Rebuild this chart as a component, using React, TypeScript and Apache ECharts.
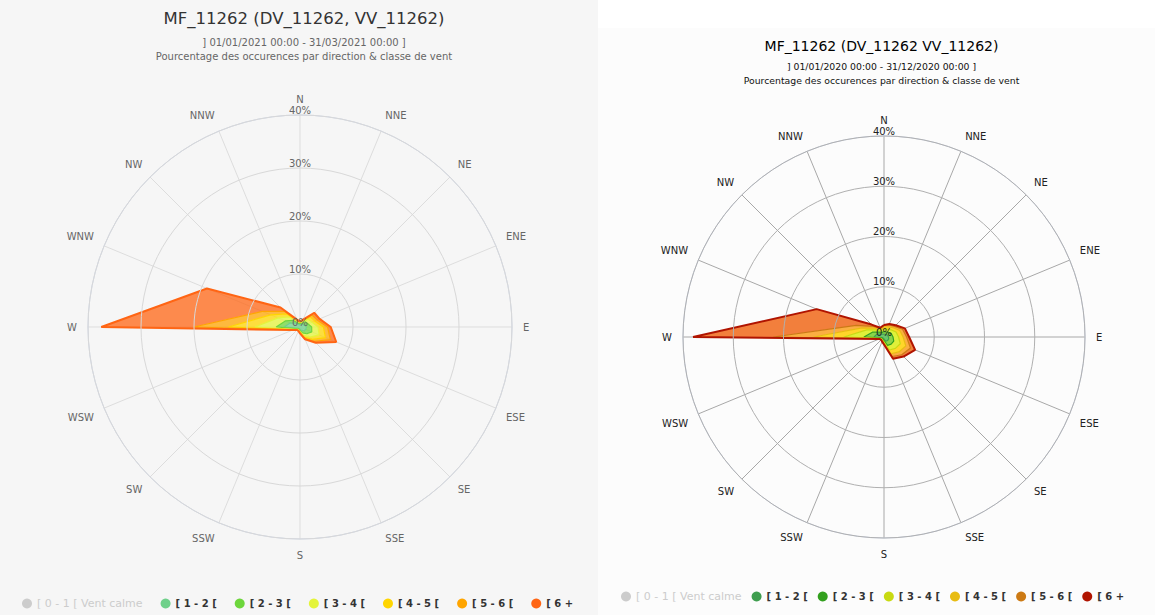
import React, { useEffect, useRef } from "react";
import * as echarts from "echarts";

const DIRECTIONS = ["N", "NNE", "NE", "ENE", "E", "ESE", "SE", "SSE", "S", "SSW", "SW", "WSW", "W", "WNW", "NW", "NNW"];
const CLASSES = ["[ 0 - 1 [ Vent calme", "[ 1 - 2 [", "[ 2 - 3 [", "[ 3 - 4 [", "[ 4 - 5 [", "[ 5 - 6 [", "[ 6 +"];

// Left chart: 01/01/2021 - 31/03/2021 (% per direction, per class)
const L_CALM = [0.3, 0.3, 0.3, 0.3, 0.3, 0.3, 0.3, 0.3, 0.3, 0.3, 0.3, 0.3, 0.3, 0.3, 0.3, 0.3];
const L_C12 = [0.4, 0.5, 0.8, 0.9, 1.2, 1.2, 1.0, 0.7, 0.4, 0.3, 0.3, 0.5, 3.0, 2.0, 1.0, 0.5];
const L_C23 = [0.2, 0.3, 0.6, 0.7, 1.0, 1.2, 0.8, 0.5, 0.3, 0.2, 0.2, 0.3, 1.5, 1.0, 0.8, 0.3];
const L_C34 = [0.2, 0.3, 0.7, 0.8, 1.2, 1.5, 0.9, 0.5, 0.2, 0.1, 0.1, 0.3, 4.0, 1.5, 0.9, 0.3];
const L_C45 = [0.1, 0.2, 0.6, 0.6, 1.0, 1.3, 0.6, 0.4, 0.1, 0.1, 0.1, 0.2, 5.0, 1.5, 0.8, 0.2];
const L_C56 = [0.1, 0.1, 0.5, 0.5, 0.8, 1.0, 0.5, 0.3, 0.1, 0.1, 0.1, 0.1, 6.5, 1.7, 0.7, 0.1];
const L_C6P = [0.0, 0.1, 0.6, 0.5, 0.6, 1.2, 0.4, 0.1, 0.1, 0.0, 0.0, 0.1, 17.5, 11.3, 1.0, 0.1];

// Right chart: 01/01/2020 - 31/12/2020
const R_CALM = [0.3, 0.3, 0.3, 0.3, 0.3, 0.3, 0.3, 0.3, 0.3, 0.3, 0.3, 0.3, 0.3, 0.3, 0.3, 0.3];
const R_C12 = [0.6, 0.6, 0.7, 0.8, 0.9, 1.0, 1.0, 0.9, 0.4, 0.3, 0.3, 0.3, 2.0, 1.5, 0.8, 0.6];
const R_C23 = [0.5, 0.5, 0.6, 0.8, 0.9, 1.1, 1.0, 0.9, 0.3, 0.2, 0.2, 0.2, 2.0, 1.0, 0.6, 0.4];
const R_C34 = [0.5, 0.6, 0.7, 1.0, 1.1, 1.4, 1.2, 1.0, 0.3, 0.2, 0.1, 0.2, 4.0, 1.2, 0.6, 0.4];
const R_C45 = [0.4, 0.5, 0.6, 0.8, 0.9, 1.2, 1.0, 0.8, 0.2, 0.1, 0.1, 0.1, 6.0, 1.0, 0.5, 0.3];
const R_C56 = [0.3, 0.4, 0.4, 0.6, 0.7, 1.0, 0.8, 0.6, 0.2, 0.1, 0.1, 0.1, 8.0, 1.3, 0.5, 0.2];
const R_C6P = [0.1, 0.2, 0.3, 0.5, 0.5, 1.0, 0.5, 0.5, 0.1, 0.1, 0.0, 0.1, 16.0, 8.5, 0.5, 0.1];

const RADIUS_MAX = 40;
const RADIUS_STEP = 10;

const L_COLORS = ["#c8c8c8", "#6fd08a", "#6dd63c", "#e4f43a", "#ffd500", "#ffa500", "#ff6514"];
const R_LINE_COLORS = ["#aaaaaa", "#3f9e4f", "#33a01e", "#c8da12", "#e8bc12", "#cc7a14", "#b01400"];
const R_FILL_COLORS = ["#cccccc", "#6cc56a", "#8ad44a", "#dff03a", "#ffd62a", "#fbae42", "#f27f3c"];

const LEFT_DATA = [L_CALM, L_C12, L_C23, L_C34, L_C45, L_C56, L_C6P];
const RIGHT_DATA = [R_CALM, R_C12, R_C23, R_C34, R_C45, R_C56, R_C6P];

type Cfg = {
  data: number[][];
  lineColors: string[];
  fillColors: string[];
  fillOpacity: number;
  outerWidth: number;
  title: string;
  titleTop: number;
  titleSize: number;
  titleColor: string;
  sub1: string;
  sub2: string;
  subTop: number;
  subSize: number;
  subColor: string;
  cx: number;
  cy: number;
  radius: number;
  labelColor: string;
  spokeColor: string;
  circleColor: string;
  legendLeft: number | string;
  legendTop: number;
  legendGap: number;
  width: number;
};

function buildOption(c: Cfg) {
  const series = c.data.map((vals, k) => {
    const pts = vals.map((v, i) => [v, i * 22.5]);
    pts.push([vals[0], 360]);
    return {
      type: "line",
      name: CLASSES[k],
      coordinateSystem: "polar",
      stack: k === 0 ? undefined : "rose",
      data: pts,
      symbol: "none",
      silent: true,
      lineStyle: { color: c.lineColors[k], width: k === 6 ? c.outerWidth : 1.2 },
      itemStyle: { color: c.lineColors[k] },
      areaStyle: { color: c.fillColors[k], opacity: c.fillOpacity },
      z: 2,
    };
  });
  const legendData = CLASSES.map((name, k) =>
    k === 0 ? { name, textStyle: { fontWeight: "normal", fontSize: 11 } } : { name }
  );
  return {
    animation: false,
    title: [
      {
        text: c.title,
        left: c.width / 2,
        textAlign: "center",
        top: c.titleTop,
        textStyle: { fontFamily: "DejaVu Sans", fontSize: c.titleSize, fontWeight: "normal", color: c.titleColor },
      },
      {
        text: c.sub1 + "\n" + c.sub2,
        left: c.width / 2,
        top: c.subTop,
        textAlign: "center",
        textStyle: {
          fontFamily: "DejaVu Sans",
          fontSize: c.subSize,
          fontWeight: "normal",
          color: c.subColor,
          lineHeight: 14,
          align: "center",
        },
      },
    ],
    legend: {
      data: legendData,
      left: c.legendLeft,
      top: c.legendTop,
      icon: "circle",
      itemWidth: 10,
      itemHeight: 10,
      itemGap: c.legendGap,
      selected: { [CLASSES[0]]: false },
      inactiveColor: "#cccccc",
      textStyle: { fontFamily: "DejaVu Sans", fontSize: 10, fontWeight: "bold", color: "#333333" },
    },
    polar: { center: [c.cx, c.cy], radius: c.radius },
    angleAxis: {
      type: "value",
      min: 0,
      max: 360,
      interval: 22.5,
      startAngle: 90,
      clockwise: true,
      axisLine: { show: true, lineStyle: { color: "#ccd6eb", width: 1 } },
      axisTick: { show: false },
      axisLabel: {
        margin: 11,
        color: c.labelColor,
        fontFamily: "DejaVu Sans",
        fontSize: 10,
        formatter: (v: number) => DIRECTIONS[Math.round(v / 22.5) % 16],
      },
      splitLine: { show: true, lineStyle: { color: c.spokeColor, width: 1 } },
    },
    radiusAxis: {
      type: "value",
      min: 0,
      max: RADIUS_MAX,
      interval: RADIUS_STEP,
      axisLine: { show: false },
      axisTick: { show: false },
      axisLabel: {
        margin: 0,
        align: "center",
        verticalAlign: "bottom",
        color: c.labelColor,
        fontFamily: "DejaVu Sans",
        fontSize: 10,
        formatter: "{value}%",
      },
      splitLine: { show: true, lineStyle: { color: c.circleColor, width: 1 } },
      z: 10,
    },
    series,
  };
}

function Rose({ cfg, style }: { cfg: Cfg; style: React.CSSProperties }) {
  const ref = useRef<HTMLDivElement>(null);
  useEffect(() => {
    if (!ref.current) return;
    const chart = echarts.init(ref.current, undefined, { renderer: "svg" });
    chart.setOption(buildOption(cfg) as any);
    return () => chart.dispose();
  }, []);
  return <div ref={ref} style={style} />;
}

const LEFT_CFG: Cfg = {
  data: LEFT_DATA,
  lineColors: L_COLORS,
  fillColors: L_COLORS,
  fillOpacity: 0.75,
  outerWidth: 2,
  title: "MF_11262 (DV_11262, VV_11262)",
  titleTop: 5,
  titleSize: 16.5,
  titleColor: "#333333",
  sub1: "] 01/01/2021 00:00 - 31/03/2021 00:00 ]",
  sub2: "Pourcentage des occurences par direction & classe de vent",
  subTop: 30,
  subSize: 10,
  subColor: "#666666",
  cx: 300,
  cy: 327,
  radius: 212,
  labelColor: "#666666",
  spokeColor: "#dddddd",
  circleColor: "#d8d8d8",
  legendLeft: 17,
  legendTop: 593,
  legendGap: 18,
  width: 598,
};

const RIGHT_CFG: Cfg = {
  data: RIGHT_DATA,
  lineColors: R_LINE_COLORS,
  fillColors: R_FILL_COLORS,
  fillOpacity: 1,
  outerWidth: 2,
  title: "MF_11262 (DV_11262 VV_11262)",
  titleTop: 6,
  titleSize: 14,
  titleColor: "#000000",
  sub1: "] 01/01/2020 00:00 - 31/12/2020 00:00 ]",
  sub2: "Pourcentage des occurences par direction & classe de vent",
  subTop: 26,
  subSize: 9.3,
  subColor: "#111111",
  cx: 286,
  cy: 309,
  radius: 201,
  labelColor: "#222222",
  spokeColor: "#a8a8a8",
  circleColor: "#b0b0b0",
  legendLeft: 18,
  legendTop: 558,
  legendGap: 10,
  width: 557,
};

export default function App() {
  useEffect(() => {
    document.body.style.margin = "0";
  }, []);
  return (
    <div style={{ position: "relative", width: 1155, height: 615, background: "#ffffff", overflow: "hidden" }}>
      <Rose cfg={LEFT_CFG} style={{ position: "absolute", left: 0, top: 0, width: 598, height: 615, background: "#f6f6f6" }} />
      <Rose cfg={RIGHT_CFG} style={{ position: "absolute", left: 598, top: 28, width: 557, height: 587, background: "#fcfcfc" }} />
    </div>
  );
}
